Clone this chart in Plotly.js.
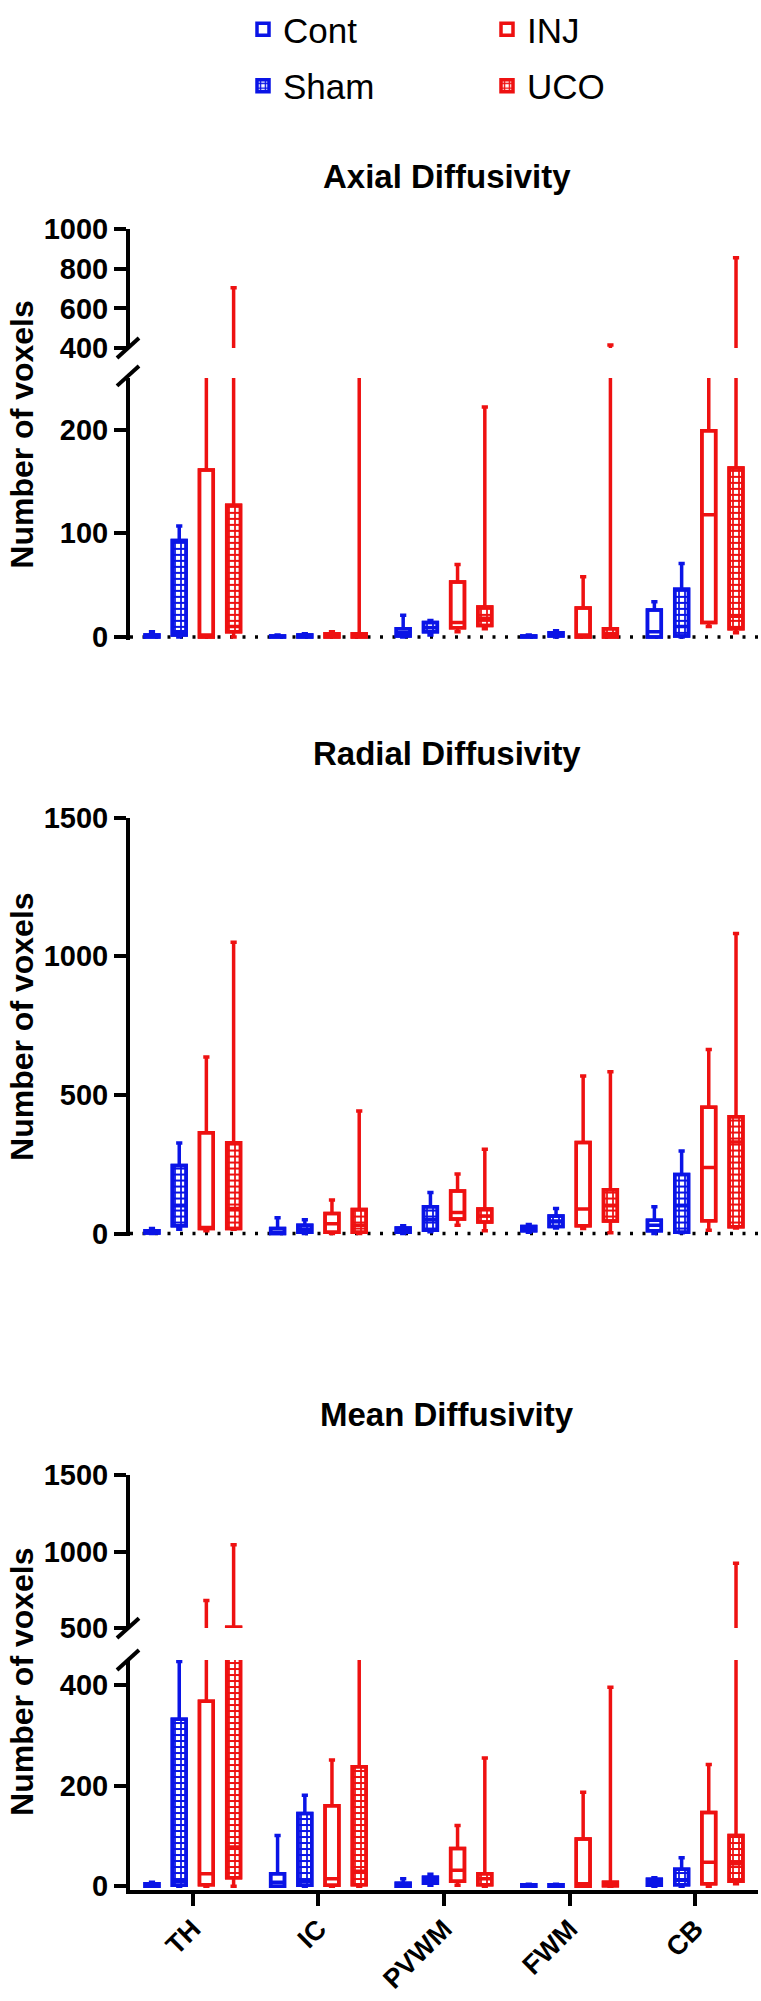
<!DOCTYPE html>
<html><head><meta charset="utf-8">
<script src="https://cdn.plot.ly/plotly-3.0.1.min.js"></script>
<style>html,body{margin:0;padding:0;background:#fff}</style>
</head><body><div id="chart" style="width:761px;height:2001px"></div>
<script>
// ---------------- DATA ----------------
const REGIONS = ['TH', 'IC', 'PVWM', 'FWM', 'CB'];
const GROUPS = ['Cont', 'Sham', 'INJ', 'UCO'];
const PANEL_TITLES = ['Axial Diffusivity', 'Radial Diffusivity', 'Mean Diffusivity'];
const Y_TITLE = 'Number of voxels';
// each entry: [min, q1, median, q3, max] for TH, IC, PVWM, FWM, CB
const AXIAL_CONT = [[0,0,1,2,5],[0,0,0,1,2],[0,1,4,8,21],[0,0,0,1,2],[0,0,5,26,34]];
const AXIAL_SHAM = [[0,2,5,93,107],[0,0,1,2,3],[2,5,9,14,16],[0,1,2,4,6],[0,1,10,46,71]];
const AXIAL_INJ  = [[0,0,2,161,330],[0,0,1,3,5],[5,9,14,53,70],[0,0,2,28,58],[10,14,118,199,330]];
const AXIAL_UCO  = [[0,5,10,127,705],[0,0,1,3,320],[8,11,18,29,222],[0,0,3,8,415],[4,8,20,163,856]];

const RADIAL_CONT = [[0,2,5,10,18],[0,0,3,18,57],[0,5,10,20,28],[5,10,15,25,33],[0,10,30,48,97]];
const RADIAL_SHAM = [[15,28,100,245,326],[0,5,15,30,50],[6,12,50,97,148],[20,25,45,63,90],[3,5,100,213,298]];
const RADIAL_INJ  = [[10,18,22,363,637],[0,5,35,72,121],[30,52,76,153,215],[18,28,88,328,568],[12,46,238,455,664]];
const RADIAL_UCO  = [[15,18,90,327,1050],[0,5,30,87,442],[10,42,63,88,304],[3,45,100,158,583],[20,24,330,421,1082]];

const MEAN_CONT = [[0,0,2,5,8],[0,0,8,25,101],[0,0,2,6,15],[0,0,0,3,4],[0,2,8,14,17]];
const MEAN_SHAM = [[0,2,10,332,447],[0,2,10,145,181],[2,6,12,18,24],[0,0,1,3,4],[0,3,12,34,57]];
const MEAN_INJ  = [[0,3,25,368,680],[0,2,15,160,251],[2,10,32,75,121],[0,0,5,94,187],[0,5,48,147,242]];
const MEAN_UCO  = [[0,17,78,505,1045],[0,3,30,238,470],[0,3,15,25,255],[0,1,4,8,396],[5,10,45,101,924]];

// ---------------- STYLE / LAYOUT ----------------
const W = 761, H = 2001;
const py = p => 1 - p / H;
const pxX = p => p / W;
const BLUE = '#0a14e6', RED = '#ee1111';
const COLORS = {Cont: BLUE, Sham: BLUE, INJ: RED, UCO: RED};
const HATCHED = {Cont: false, Sham: true, INJ: false, UCO: true};
const OFFSETS = {Cont: -0.325, Sham: -0.108, INJ: 0.108, UCO: 0.325};
const BOX_W = 0.11;
const LW = 3.5;
const FONT = 'Liberation Sans, Arial, Helvetica, sans-serif';

const panels = [
  {data: {Cont: AXIAL_CONT, Sham: AXIAL_SHAM, INJ: AXIAL_INJ, UCO: AXIAL_UCO}, axes: ['y', 'y2']},
  {data: {Cont: RADIAL_CONT, Sham: RADIAL_SHAM, INJ: RADIAL_INJ, UCO: RADIAL_UCO}, axes: ['y3']},
  {data: {Cont: MEAN_CONT, Sham: MEAN_SHAM, INJ: MEAN_INJ, UCO: MEAN_UCO}, axes: ['y4', 'y5']}
];

const traces = [];
const boxTraces = [];
panels.forEach((panel, pi) => {
  panel.axes.forEach((ax, ai) => {
    GROUPS.forEach(g => {
      const d = panel.data[g];
      const xs = REGIONS.map((_, i) => i + OFFSETS[g]);
      const col = COLORS[g];
      const marker = {color: 'white', line: {color: col, width: LW}};
      if (HATCHED[g]) {
        marker.pattern = {shape: '+', fgcolor: col, bgcolor: 'white', size: 6, solidity: 0.5, fillmode: 'replace'};
      }
      const first = (pi === 0 && ai === 0);
      traces.push({
        type: 'bar', x: xs, base: d.map(r => r[1]), y: d.map(r => r[3] - r[1]),
        width: BOX_W, marker: marker, name: g, yaxis: ax, xaxis: 'x',
        showlegend: first, legend: (g === 'Cont' || g === 'Sham') ? 'legend' : 'legend2',
        legendgroup: g, hoverinfo: 'skip'
      });
      boxTraces.push({
        type: 'box', orientation: 'v', x: xs,
        lowerfence: d.map(r => r[0]), q1: d.map(r => r[1]), median: d.map(r => r[2]),
        q3: d.map(r => r[3]), upperfence: d.map(r => r[4]),
        width: BOX_W, whiskerwidth: 0.45, boxpoints: false,
        line: {color: col, width: LW}, fillcolor: 'rgba(0,0,0,0)',
        yaxis: ax, xaxis: 'x', showlegend: false, hoverinfo: 'skip', name: g
      });
    });
  });
});

const X0 = 130, X1 = 758;
const tickFont = {family: FONT, size: 29, color: 'black', weight: 'bold'};
function yax(domPx, range, tickvals) {
  return {
    domain: [py(domPx[1]), py(domPx[0])], range: range, anchor: 'x',
    tickmode: 'array', tickvals: tickvals, ticktext: tickvals.map(String),
    showline: true, linewidth: 4, linecolor: 'black', ticks: 'outside', ticklen: 12,
    tickwidth: 4, tickcolor: 'black', tickfont: tickFont, showgrid: false, zeroline: false,
    fixedrange: true
  };
}

const legendFont = {family: FONT, size: 35, color: 'black'};
const layout = {
  width: W, height: H, margin: {l: 0, r: 0, t: 0, b: 0},
  paper_bgcolor: 'white', plot_bgcolor: 'rgba(0,0,0,0)',
  barmode: 'overlay', boxmode: 'overlay', showlegend: true,
  xaxis: {
    domain: [pxX(X0), pxX(X1)], range: [-0.5, 4.5], anchor: 'y5',
    tickmode: 'array', tickvals: REGIONS.map((_, i) => i), ticktext: REGIONS,
    tickangle: -45, showline: true, linewidth: 4, linecolor: 'black', ticks: 'outside',
    ticklen: 12, tickwidth: 4, tickcolor: 'black', ticklabelstandoff: -4,
    tickfont: {family: FONT, size: 27, color: 'black', weight: 'bold'},
    showgrid: false, zeroline: false, fixedrange: true
  },
  yaxis: yax([373, 636], [-3, 250], [0, 100, 200]),
  yaxis2: yax([224, 343], [400, 1000], [400, 600, 800, 1000]),
  yaxis3: yax([814, 1234], [-10, 1500], [0, 500, 1000, 1500]),
  yaxis4: yax([1473.5, 1627], [500, 1500], [500, 1000, 1500]),
  yaxis5: yax([1659, 1890], [-8, 450], [0, 200, 400]),
  legend: {x: pxX(243), y: py(-6), xanchor: 'left', yanchor: 'top', orientation: 'v',
    font: legendFont, traceorder: 'grouped', tracegroupgap: 8,
    bgcolor: 'rgba(0,0,0,0)'},
  legend2: {x: pxX(487), y: py(-6), xanchor: 'left', yanchor: 'top', orientation: 'v',
    font: legendFont, traceorder: 'grouped', tracegroupgap: 8,
    bgcolor: 'rgba(0,0,0,0)'},
  annotations: [],
  shapes: []
};

// panel titles
[171, 750, 1413].forEach((yp, i) => {
  layout.annotations.push({text: PANEL_TITLES[i], xref: 'paper', yref: 'paper',
    x: pxX(447), y: py(yp), xanchor: 'center', yanchor: 'middle', showarrow: false,
    font: {family: FONT, size: 33, color: 'black', weight: 'bold'}});
});
// y axis titles
[430, 1024, 1681].forEach(yp => {
  layout.annotations.push({text: Y_TITLE, xref: 'paper', yref: 'paper',
    x: pxX(22), y: py(yp), xanchor: 'center', yanchor: 'middle', textangle: -90, showarrow: false,
    borderpad: 0, font: {family: FONT, size: 32, color: 'black', weight: 'bold'}});
});
// dotted zero lines
['y', 'y3'].forEach(ax => {
  layout.shapes.push({type: 'line', xref: 'x domain', yref: ax, x0: 0, x1: 1, y0: 0, y1: 0,
    layer: 'below', line: {color: 'black', width: 3.5, dash: '3px,9.5px'}});
});
// axis break marks
[343, 371, 1627, 1659].forEach(yp => {
  layout.shapes.push({type: 'line', xref: 'paper', yref: 'paper',
    x0: pxX(117), y0: py(yp + 10), x1: pxX(139), y1: py(yp - 10),
    line: {color: 'black', width: 4}});
});

Plotly.newPlot('chart', traces.concat(boxTraces), layout, {staticPlot: true, displayModeBar: false});
</script></body></html>
